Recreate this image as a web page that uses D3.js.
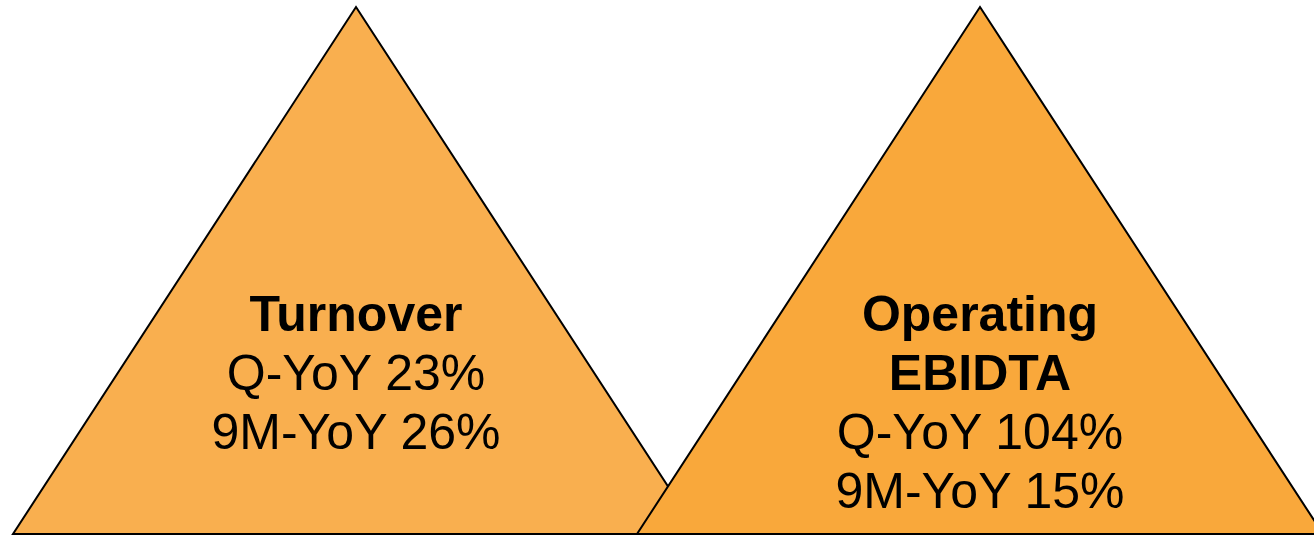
<!DOCTYPE html>
<html>
<head>
<meta charset="utf-8">
<script src="https://cdn.jsdelivr.net/npm/d3@7"></script>
<style>
  html, body { margin: 0; padding: 0; background: #fff; overflow: hidden; }
  text { font-family: "Liberation Sans", Arial, sans-serif; fill: #000; }
</style>
</head>
<body>
<div id="chart"></div>
<script>
var svgWidth = 1314;
var svgHeight = 535;

// values
var metrics = ["Turnover", "Operating EBIDTA"];
var titleLines = [["Turnover"], ["Operating", "EBIDTA"]];
var qYoY = [23, 104];
var nineMYoY = [26, 15];
var fills = ["#f9af4f", "#f9a83b"];

var svg = d3.select("#chart")
  .append("svg")
  .attr("width", svgWidth)
  .attr("height", svgHeight);

// apex x for each triangle
var xScale = d3.scalePoint().domain(metrics).range([356, 980]);
var apexY = 7;
var baseY = 534;
var halfBase = 343;

var lineHeight = 59;
var firstBaseline = 331;

metrics.forEach(function(m, i) {
  var cx = xScale(m);
  var pts = [[cx, apexY], [cx + halfBase, baseY], [cx - halfBase, baseY]];

  svg.append("path")
    .attr("d", d3.line()(pts) + "Z")
    .attr("fill", fills[i])
    .attr("stroke", "#000")
    .attr("stroke-width", 2)
    .attr("stroke-linejoin", "miter");

  var lines = titleLines[i].map(function(t) { return { text: t, bold: true }; });
  lines.push({ text: "Q-YoY " + qYoY[i] + "%", bold: false });
  lines.push({ text: "9M-YoY " + nineMYoY[i] + "%", bold: false });

  svg.selectAll("text.m" + i)
    .data(lines)
    .enter()
    .append("text")
    .attr("class", "m" + i)
    .attr("x", cx)
    .attr("y", function(d, j) { return firstBaseline + j * lineHeight; })
    .attr("text-anchor", "middle")
    .style("font-size", "50px")
    .style("font-weight", function(d) { return d.bold ? "bold" : "normal"; })
    .text(function(d) { return d.text; });
});
</script>
</body>
</html>
